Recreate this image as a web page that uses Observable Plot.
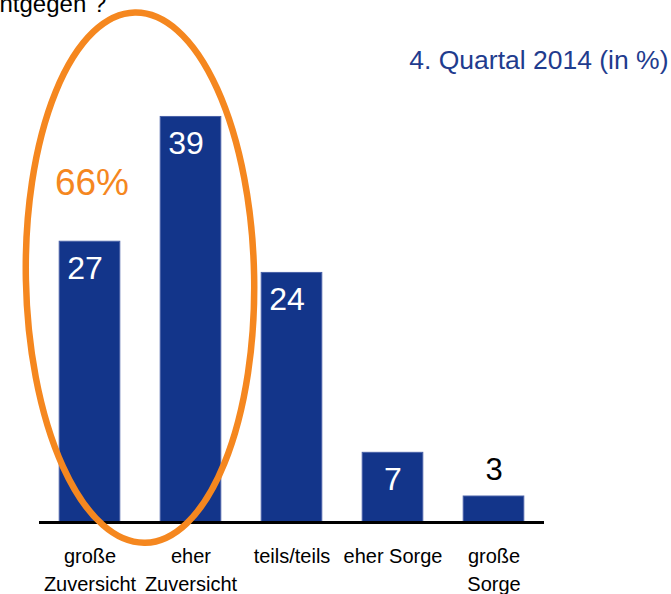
<!DOCTYPE html>
<html><head><meta charset="utf-8">
<script src="https://cdn.jsdelivr.net/npm/d3@7"></script>
<script src="https://cdn.jsdelivr.net/npm/@observablehq/plot@0.6"></script>
<style>body{margin:0;background:#fff;} #chart{width:671px;height:594px;overflow:hidden}</style>
</head><body><div id="chart"></div>
<script>
// ---- data ----
const categories = ["große Zuversicht", "eher Zuversicht", "teils/teils", "eher Sorge", "große Sorge"];
const tickLabels = ["große\nZuversicht", "eher\nZuversicht", "teils/teils", "eher Sorge", "große\nSorge"];
const values = [27, 39, 24, 6.7, 2.5];
const titleText = "ntgegen ?";
const subtitleText = "4. Quartal 2014 (in %)";
const highlight = ["große Zuversicht", "eher Zuversicht"];

// ---- styles ----
const BLUE = "#13358a";
const ORANGE = "#f5871f";
const FONT = "'Liberation Sans', Arial, Helvetica, sans-serif";

const data = categories.map((c, i) => ({
  category: c,
  value: values[i],
  label: String(Math.round(values[i])),
  tick: tickLabels[i],
  inside: values[i] >= 5
}));
const highlightSum = highlight.reduce((s, c) => s + Math.round(values[categories.indexOf(c)]), 0);
const insideWide = data.filter(d => d.inside && d.label.length > 1);
const insideNarrow = data.filter(d => d.inside && d.label.length === 1);

const plot = Plot.plot({
  width: 671,
  height: 594,
  marginLeft: 39,
  marginRight: 127,
  marginTop: 0,
  marginBottom: 72,
  x: {domain: categories, paddingInner: 0.4, paddingOuter: 0.2, round: false, axis: null},
  y: {domain: [0, 50.2], axis: null},
  style: {fontFamily: FONT, background: "white", overflow: "visible"},
  marks: [
    Plot.barY(data, {x: "category", y: "value", fill: BLUE, stroke: "#4a62a8", strokeWidth: 1}),
    Plot.ruleY([0], {stroke: "#000", strokeWidth: 3}),
    Plot.text(insideWide, {x: "category", y: "value", text: "label", fill: "white", fontSize: 32, lineAnchor: "bottom", dy: 37, dx: -5}),
    Plot.text(insideNarrow, {x: "category", y: "value", text: "label", fill: "white", fontSize: 32, lineAnchor: "bottom", dy: 37, dx: 0}),
    Plot.text(data.filter(d => !d.inside), {x: "category", y: "value", text: "label", fill: "black", fontSize: 31, lineAnchor: "bottom", dy: -17}),
    Plot.text(data, {x: "category", y: () => 0, text: "tick", fill: "black", fontSize: 20, lineAnchor: "top", dy: 21, lineHeight: 1.4}),
    Plot.text([{c: highlight[0], v: 31.5, t: `${highlightSum}%`}], {x: "c", y: "v", text: "t", fill: ORANGE, fontSize: 37, lineAnchor: "bottom", dx: 2}),
    Plot.text([titleText], {frameAnchor: "top-left", text: d => d, textAnchor: "start", lineAnchor: "bottom", dx: -40, dy: 11, fontSize: 24, fill: "black"}),
    Plot.text([subtitleText], {frameAnchor: "top-right", text: d => d, textAnchor: "end", lineAnchor: "bottom", dx: 124, dy: 68, fontSize: 26.5, fill: "#1f3c8e"})
  ]
});

// ---- highlight ellipse drawn through the plot's own scales ----
const xs = plot.scale("x");
const ys = plot.scale("y");
const xBand = d3.scaleBand().domain(xs.domain).range(xs.range)
  .paddingInner(xs.paddingInner ?? 0.4).paddingOuter(xs.paddingOuter ?? 0.2).align(xs.align ?? 0.5);
const yLin = d3.scaleLinear().domain(ys.domain).range(ys.range);
const centers = highlight.map(c => xBand(c) + xBand.bandwidth() / 2);
const cx = d3.mean(centers);
const cy = yLin(23.5);
const rx = xBand.step() * 1.13;
const ry = Math.abs(yLin(25.5) - yLin(0));
d3.select(plot).append("ellipse")
  .attr("cx", cx).attr("cy", cy).attr("rx", rx).attr("ry", ry)
  .attr("transform", `rotate(-1.1 ${cx} ${cy})`)
  .attr("fill", "none").attr("stroke", ORANGE).attr("stroke-width", 6.5);

document.getElementById("chart").appendChild(plot);
</script>
</body></html>
